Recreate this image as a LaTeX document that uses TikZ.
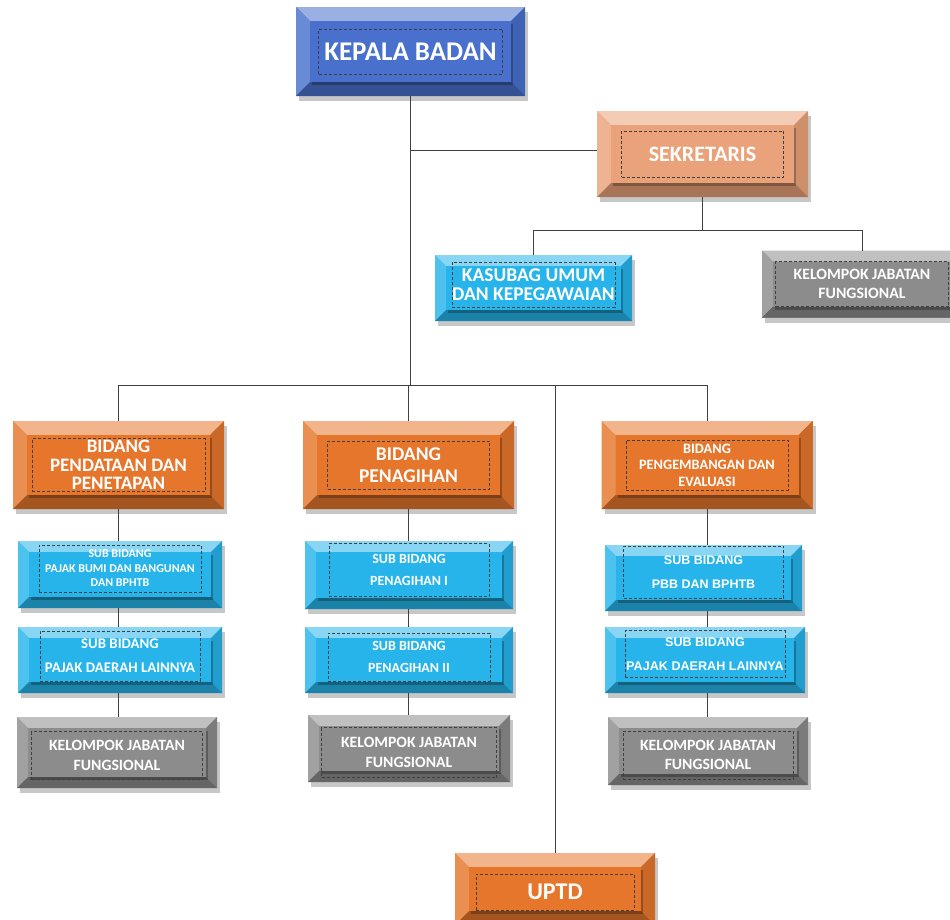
\documentclass[tikz,border=0pt]{standalone}
\usepackage{fontspec}
\setmainfont{Carlito}
\newfontfamily\arialf{Liberation Sans}
\usetikzlibrary{calc}
\definecolor{cBlue}{RGB}{72,112,204}
\definecolor{cPeach}{RGB}{234,162,122}
\definecolor{cCyan}{RGB}{38,180,234}
\definecolor{cGray}{RGB}{140,140,140}
\definecolor{cOrange}{RGB}{229,118,44}
\tikzset{
 boxframe/.style={inner sep=0pt, outer sep=0pt},
 inbox/.style={draw=black!75, densely dashed, line width=0.6pt, text=white, align=center, inner sep=0pt},
 link/.style={draw=black!75, line width=0.8pt},
}
\newcommand\bw{12}
\newcommand\ioff{0,0}
\newcommand\obox[9]{%
 \node[boxframe, minimum width=#3pt, minimum height=#4pt] (#1) at (#2) {};
 \fill[black, opacity=0.22] ([shift={(3,5)}]#1.north west) rectangle ([shift={(3,5)}]#1.south east);
 \fill[#5] (#1.north west) rectangle (#1.south east);
 \fill[#5!55!white] (#1.north west) -- (#1.north east) -- ([shift={(-\bw,\bw)}]#1.north east) -- ([shift={(\bw,\bw)}]#1.north west) -- cycle;
 \fill[#5!82!white] (#1.north west) -- ([shift={(\bw,\bw)}]#1.north west) -- ([shift={(\bw,-\bw)}]#1.south west) -- (#1.south west) -- cycle;
 \fill[#5!88!black] (#1.north east) -- ([shift={(-\bw,\bw)}]#1.north east) -- ([shift={(-\bw,-\bw)}]#1.south east) -- (#1.south east) -- cycle;
 \fill[#5!72!black] (#1.south west) -- ([shift={(\bw,-\bw)}]#1.south west) -- ([shift={(-\bw,-\bw)}]#1.south east) -- (#1.south east) -- cycle;
 \fill[black, opacity=.25] ([shift={(\bw+2,\bw+3)}]#1.north west) rectangle ([shift={(-\bw+2,-\bw+3)}]#1.south east);
 \fill[#5] ([shift={(\bw,\bw)}]#1.north west) rectangle ([shift={(-\bw,-\bw)}]#1.south east);
 \node[inbox, minimum width=#6pt, minimum height=#7pt, font={#9}] at ([shift={(\ioff)}]#1.center) {#8};
}
\begin{document}
\begin{tikzpicture}[x=1pt,y=-1pt]
\useasboundingbox (0,0) rectangle (950,919);
\clip (0,0) rectangle (950,919);
\fill[white] (0,0) rectangle (950,919);
\coordinate (busA) at (411,385);
\coordinate (busB) at (700,230);
% ---------- boxes ----------
\renewcommand\bw{14}
\obox{kepala}{410.5,51.5}{229}{89}{cBlue}{184}{45}{KEPALA BADAN}{\fontsize{27}{30}\selectfont\bfseries}
\obox{sek}{702.5,154}{211}{86}{cPeach}{162}{46}{SEKRETARIS}{\fontsize{22}{24}\selectfont\bfseries}
\obox{b1}{118.5,465}{211}{88}{cOrange}{173}{53}{BIDANG\\PENDATAAN DAN\\PENETAPAN}{\fontsize{19}{18.5}\selectfont\bfseries}
\obox{b2}{408.5,465}{211}{88}{cOrange}{162}{48}{BIDANG\\PENAGIHAN}{\fontsize{19.5}{22}\selectfont\bfseries}
\obox{b3}{707,465}{211}{88}{cOrange}{162}{50}{BIDANG\\PENGEMBANGAN DAN\\EVALUASI}{\fontsize{14.3}{16.5}\selectfont\bfseries}
\renewcommand\ioff{0,3}
\obox{uptd}{555,889}{200}{72}{cOrange}{158}{36}{UPTD}{\fontsize{24}{28}\selectfont\bfseries}
\renewcommand\bw{11}
\renewcommand\ioff{0,-3.5}
\obox{kas}{533.5,288}{197}{66}{cCyan}{160}{45}{KASUBAG UMUM\\DAN KEPEGAWAIAN}{\fontsize{19.5}{19}\selectfont\bfseries}
\renewcommand\ioff{0,0}
\obox{kel0}{862,284}{200}{67}{cGray}{173}{45}{KELOMPOK JABATAN\\FUNGSIONAL}{\fontsize{15.8}{18.5}\selectfont\bfseries}
\renewcommand\ioff{0,-6}
\obox{s11}{120,574.5}{204}{67}{cCyan}{162}{47}{SUB BIDANG\\PAJAK BUMI DAN BANGUNAN\\DAN BPHTB}{\fontsize{12}{14.5}\selectfont\bfseries}
\renewcommand\ioff{0,-4}
\obox{s12}{120,660}{204}{66}{cCyan}{160}{50}{SUB BIDANG\\[5pt]PAJAK DAERAH LAINNYA}{\fontsize{14.8}{19}\selectfont\bfseries}
\renewcommand\ioff{0,3}
\obox{k1}{117,752.5}{200}{71}{cGray}{171}{48}{KELOMPOK JABATAN\\FUNGSIONAL}{\fontsize{15.7}{19.5}\selectfont\bfseries}
\renewcommand\ioff{0,-5}
\obox{s21}{409,575}{208}{68}{cCyan}{160}{53}{SUB BIDANG\\[4pt]PENAGIHAN I}{\fontsize{14}{18.5}\selectfont\bfseries}
\renewcommand\ioff{0,-3}
\obox{s22}{409,660}{208}{66}{cCyan}{162}{48}{SUB BIDANG\\[4pt]PENAGIHAN II}{\fontsize{14}{18.5}\selectfont\bfseries}
\renewcommand\ioff{0,4}
\obox{k2}{409,748.5}{202}{67}{cGray}{175}{50}{KELOMPOK JABATAN\\FUNGSIONAL}{\fontsize{15.7}{19.5}\selectfont\bfseries}
\renewcommand\ioff{0,-6}
\obox{s31}{703.5,578}{197}{66}{cCyan}{160}{52}{SUB BIDANG\\[5pt]PBB DAN BPHTB}{\arialf\fontsize{12.5}{18.5}\selectfont\bfseries}
\obox{s32}{705,660}{200}{66}{cCyan}{160}{47}{SUB BIDANG\\[5pt]PAJAK DAERAH LAINNYA}{\arialf\fontsize{12.6}{18.5}\selectfont\bfseries}
\renewcommand\ioff{0,4}
\obox{k3}{708,751}{200}{68}{cGray}{170}{48}{KELOMPOK JABATAN\\FUNGSIONAL}{\fontsize{15.7}{19.5}\selectfont\bfseries}
% ---------- connectors ----------
\draw[link] (kepala.south) -- (kepala.south |- busA);
\draw[link] (kepala.south |- 0,150) -- ([yshift=4pt]sek.west);
\draw[link] (sek.south) -- (sek.south |- busB);
\draw[link] (kas.north) -- (kas.north |- busB) -- (kel0.north |- busB) -- (kel0.north);
\draw[link] (b1.north) -- (b1.north |- busA) -- (b3.north |- busA) -- (b3.north);
\draw[link] (b2.north) -- (b2.north |- busA);
\draw[link] (uptd.north) -- (uptd.north |- busA);
\draw[link] (b1.south) -- (b1.south |- s11.north);
\draw[link] (s11.south -| b1.south) -- (b1.south |- s12.north);
\draw[link] (s12.south -| b1.south) -- (b1.south |- k1.north);
\draw[link] (b2.south) -- (b2.south |- s21.north);
\draw[link] (s21.south -| b2.south) -- (b2.south |- s22.north);
\draw[link] (s22.south -| b2.south) -- (b2.south |- k2.north);
\draw[link] (b3.south) -- (b3.south |- s31.north);
\draw[link] (s31.south -| b3.south) -- (b3.south |- s32.north);
\draw[link] (s32.south -| b3.south) -- (b3.south |- k3.north);
\end{tikzpicture}
\end{document}
